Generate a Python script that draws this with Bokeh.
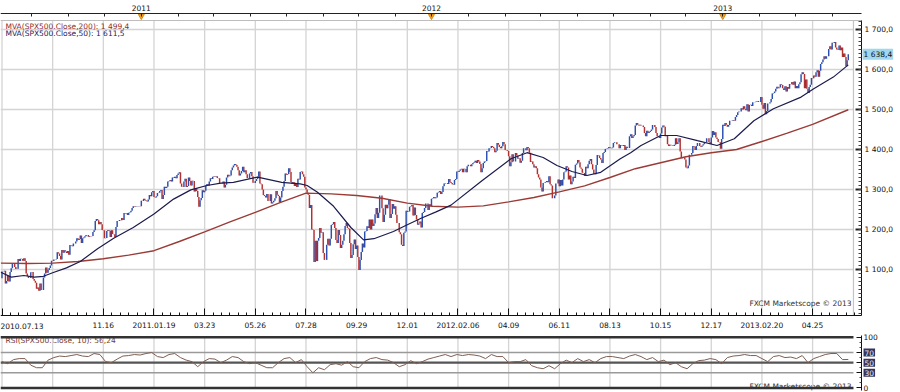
from bokeh.plotting import figure
from bokeh.models import ColumnDataSource, FixedTicker, Range1d, Label, LinearAxis
from bokeh.layouts import column
from bokeh.embed import file_html
from bokeh.resources import INLINE

# ---------------- data (daily closes, bar index -1 = 2010.07.12) ----------------
close_2010 = [1078, 1095, 1095, 1097, 1065, 1071, 1084, 1070, 1094, 1103, 1115, 1114, 1106, 1101, 1102,
              1126, 1121, 1127, 1126, 1122, 1128, 1121, 1090, 1084, 1079, 1079, 1093, 1094, 1076, 1072,
              1067, 1052, 1055, 1047, 1065, 1049, 1049,
              1080, 1090, 1105, 1092, 1099, 1104, 1110, 1122, 1121, 1125, 1125, 1126, 1143, 1140, 1134,
              1125, 1149, 1142, 1148, 1145, 1141,
              1146, 1137, 1161, 1160, 1158, 1165, 1165, 1170, 1178, 1174, 1176, 1185, 1166, 1178, 1180,
              1183, 1186, 1186, 1182, 1184, 1183,
              1184, 1194, 1198, 1221, 1226, 1223, 1213, 1219, 1213, 1199, 1198, 1178, 1179, 1196, 1199,
              1197, 1181, 1198, 1189, 1188, 1181,
              1206, 1221, 1221, 1224, 1223, 1229, 1224, 1241, 1240, 1241, 1236, 1242, 1243, 1247, 1254,
              1258, 1257, 1258, 1259, 1258, 1259, 1258]
close_2011 = [1272, 1271, 1277, 1274, 1272, 1270, 1275, 1286, 1283, 1293, 1296, 1281, 1280, 1283, 1291,
              1292, 1296, 1299, 1276, 1286,
              1307, 1304, 1307, 1320, 1321, 1324, 1320, 1330, 1329, 1332, 1328, 1336, 1340, 1343, 1315,
              1307, 1306, 1320, 1327,
              1306, 1309, 1330, 1321, 1310, 1322, 1321, 1295, 1304, 1296, 1281, 1257, 1273, 1279, 1298,
              1293, 1297, 1310, 1314, 1310, 1320, 1328, 1326,
              1332, 1333, 1332, 1333, 1329, 1328, 1314, 1314, 1315, 1320, 1305, 1312, 1330, 1337, 1333,
              1335, 1348, 1355, 1360, 1364,
              1361, 1357, 1348, 1335, 1340, 1346, 1357, 1343, 1348, 1338, 1329, 1328, 1340, 1344, 1333,
              1317, 1316, 1321, 1326, 1332, 1345,
              1315, 1313, 1300, 1286, 1284, 1280, 1289, 1271, 1271, 1288, 1265, 1268, 1272, 1278, 1296,
              1287, 1284, 1268, 1280, 1296, 1307, 1321,
              1340, 1337, 1339, 1353, 1344, 1319, 1314, 1318, 1309, 1316, 1306, 1327, 1325, 1344, 1345,
              1338, 1332, 1305, 1300, 1292,
              1287, 1254, 1261, 1200, 1199, 1119, 1172, 1121, 1172, 1179, 1204, 1192, 1193, 1141, 1124,
              1124, 1162, 1177, 1160, 1177, 1211, 1213, 1219,
              1204, 1174, 1166, 1199, 1186, 1154, 1162, 1172, 1188, 1209, 1216, 1204, 1202, 1166, 1129,
              1136, 1163, 1175, 1151, 1160, 1131,
              1099, 1124, 1144, 1165, 1155, 1195, 1196, 1208, 1204, 1225, 1200, 1225, 1209, 1215, 1238,
              1254, 1229, 1242, 1285, 1285, 1253,
              1219, 1237, 1262, 1253, 1262, 1276, 1229, 1239, 1264, 1252, 1258, 1237, 1216, 1216, 1193,
              1188, 1162, 1159, 1192, 1195, 1247,
              1244, 1245, 1257, 1258, 1261, 1235, 1255, 1236, 1225, 1212, 1215, 1220, 1205, 1241, 1244,
              1254, 1265, 1265, 1249, 1263, 1258]
close_2012 = [1277, 1278, 1281, 1278, 1280, 1292, 1293, 1296, 1289, 1294, 1308, 1315, 1316, 1316, 1314,
              1326, 1319, 1316, 1313, 1312,
              1324, 1326, 1345, 1344, 1347, 1350, 1352, 1343, 1352, 1351, 1343, 1358, 1362, 1362, 1358,
              1363, 1366, 1368, 1372, 1366,
              1374, 1370, 1364, 1343, 1353, 1366, 1370, 1371, 1396, 1395, 1403, 1404, 1409, 1406, 1403,
              1393, 1397, 1416, 1412, 1406, 1403, 1408,
              1419, 1413, 1399, 1398, 1396, 1383, 1358, 1368, 1388, 1370, 1370, 1391, 1385, 1377, 1378,
              1367, 1372, 1391, 1403, 1403, 1398,
              1406, 1403, 1392, 1369, 1370, 1363, 1355, 1358, 1353, 1338, 1330, 1325, 1305, 1295, 1316,
              1317, 1319, 1321, 1318, 1333, 1313, 1310,
              1278, 1278, 1285, 1315, 1315, 1325, 1308, 1324, 1310, 1325, 1343, 1345, 1358, 1355, 1325,
              1335, 1313, 1320, 1332, 1329, 1362,
              1365, 1374, 1368, 1355, 1352, 1342, 1341, 1334, 1357, 1353, 1363, 1372, 1376, 1363, 1350,
              1339, 1338, 1361, 1386, 1385, 1379,
              1375, 1366, 1391, 1394, 1401, 1402, 1403, 1406, 1404, 1403, 1405, 1416, 1418, 1418, 1413,
              1413, 1403, 1411, 1410, 1409, 1411, 1399, 1407,
              1404, 1404, 1433, 1438, 1429, 1433, 1436, 1460, 1466, 1462, 1460, 1462, 1460, 1460, 1456,
              1441, 1433, 1447, 1441,
              1444, 1446, 1450, 1461, 1461, 1456, 1441, 1433, 1433, 1429, 1440, 1455, 1460, 1457, 1433,
              1434, 1413, 1409, 1412, 1411, 1410, 1409, 1412,
              1428, 1414, 1418, 1428, 1395, 1378, 1380, 1380, 1375, 1355, 1353, 1360, 1387, 1387, 1391,
              1409, 1407, 1399, 1409, 1416, 1416,
              1409, 1407, 1410, 1413, 1418, 1418, 1428, 1428, 1419, 1414, 1430, 1446, 1436, 1443, 1430,
              1426, 1419, 1418, 1402, 1426]
close_2013 = [1462, 1459, 1466, 1462, 1457, 1461, 1472, 1472, 1471, 1473, 1472, 1481, 1486, 1493, 1495,
              1495, 1503, 1500, 1508, 1502, 1498,
              1513, 1495, 1511, 1512, 1509, 1518, 1518, 1519, 1520, 1521, 1519, 1519, 1531, 1512, 1502,
              1516, 1488, 1496, 1515, 1515,
              1518, 1526, 1540, 1541, 1545, 1552, 1557, 1553, 1555, 1563, 1561, 1553, 1549, 1558, 1545,
              1556, 1552, 1564, 1563, 1569,
              1562, 1570, 1553, 1559, 1553, 1563, 1568, 1588, 1593, 1589, 1553, 1575, 1552, 1541, 1556,
              1562, 1579, 1578, 1585, 1582, 1593, 1598,
              1582, 1597, 1614, 1618, 1625, 1633, 1627, 1633, 1633, 1651, 1658, 1650, 1667, 1666, 1669,
              1655, 1650, 1649, 1660, 1648, 1655, 1631,
              1640, 1631, 1608, 1623, 1638]

ma200_idx = [-1, 22, 44, 66, 88, 110, 132, 154, 176, 198, 220, 242, 264, 286, 308, 330, 352, 374,
             396, 418, 440, 462, 484, 506, 528, 550, 572, 594, 616, 638, 660, 682, 704, 735]
ma200_val = [1116, 1115, 1116, 1120, 1127, 1136, 1147, 1170, 1194, 1219, 1243, 1268, 1291, 1289,
             1285, 1278, 1266, 1258, 1256, 1259, 1269, 1280, 1294, 1309, 1330, 1352, 1367, 1382,
             1392, 1400, 1420, 1441, 1463, 1499.4]

ma50_idx = [-1, 8, 19, 28, 36, 44, 56, 68, 83, 97, 114, 132, 149, 164, 178, 190, 201, 222, 243,
            259, 265, 274, 288, 303, 314, 323, 340, 352, 364, 377, 390, 416, 442, 456, 470, 482,
            495, 508, 520, 537, 546, 555, 572, 586, 604, 621, 636, 653, 670, 694, 705, 722, 735]
ma50_val = [1093, 1081, 1085, 1081, 1083, 1092, 1104, 1120, 1152, 1178, 1205, 1239, 1276, 1299,
            1310, 1316, 1318, 1331, 1318, 1314, 1310, 1293, 1258, 1205, 1174, 1177, 1195, 1212,
            1228, 1244, 1261, 1320, 1377, 1392, 1380, 1360, 1345, 1335, 1343, 1377, 1392, 1410,
            1435, 1435, 1422, 1410, 1427, 1472, 1502, 1531, 1552, 1581, 1611.5]

rsi_val = [52, 48, 56, 58, 58, 45, 40, 40, 55, 60, 63, 62, 64, 66, 63, 62, 68, 66, 52, 50,
           57, 63, 64, 66, 65, 68, 70, 62, 60, 66, 68, 60, 55, 52, 42, 52, 58, 57, 50, 55,
           62, 60, 52, 48, 50, 45, 40, 40, 50, 58, 60, 50, 56, 42, 30, 40, 36, 46, 48, 45,
           52, 42, 40, 52, 58, 60, 56, 55, 50, 42, 46, 54, 48, 52, 57, 60, 63, 66, 62, 66,
           64, 66, 65, 63, 58, 66, 62, 62, 50, 52, 52, 56, 44, 40, 38, 44, 38, 48, 55, 50,
           58, 52, 56, 50, 58, 62, 62, 60, 58, 63, 66, 62, 56, 60, 52, 55, 46, 50, 42, 38,
           48, 54, 55, 58, 56, 48, 60, 63, 64, 66, 64, 64, 58, 52, 62, 64, 60, 61, 58, 64,
           50, 58, 62, 66, 68, 68, 56, 56.24]
rsi_idx = list(range(0, 5 * len(rsi_val), 5))

date_tick_idx = [0, 44, 88, 132, 176, 220, 264, 308, 352, 396, 440, 484, 528, 572, 616, 660, 704]
date_tick_labels = ["2010.07.13", "", "11.16", "2011.01.19", "03.23", "05.26", "07.28", "09.29",
                    "12.01", "2012.02.06", "04.09", "06.11", "08.13", "10.15", "12.17",
                    "2013.02.20", "04.25"]
year_labels = ["2011", "2012", "2013"]
price_ticks = [1100, 1200, 1300, 1400, 1500, 1600, 1700]
rsi_levels = [100, 70, 50, 30, 0]
rsi_boxed = [70, 50, 30]
last_price = 1638.4

# ---------------- derived ----------------
closes = close_2010 + close_2011 + close_2012 + close_2013
bar_idx = list(range(-1, len(closes) - 1))
n10, n11, n12 = len(close_2010), len(close_2011), len(close_2012)
year_idx = [n10 - 1, n10 + n11 - 1, n10 + n11 + n12 - 1]


def fmt(v, nd=1):
    s = f"{v:,.{nd}f}"
    return s.replace(",", " ").replace(".", ",")


FONT = "DejaVu Sans"
FS = "7.5px"
UP, DOWN = "#2c4fae", "#b3302f"
GRID = "#d4d4d4"
W = 900
X0, X1 = -1.303, 780.35        # whole canvas width (1.1514 px per bar)
XAX = 746.5                     # position of the right-hand axis
EDGE = bar_idx[-1] + 4.5        # right border of the chart area
YB, YT = 985.0, 1722.5          # bottom / top of the price area
x_range = Range1d(X0, X1)

# ---------------- main price panel ----------------
main = figure(width=W, height=333, x_range=x_range, y_range=Range1d(940.0, 1772.5),
              output_backend="svg", toolbar_location=None,
              x_axis_location="below", y_axis_location="right",
              min_border_left=0, min_border_right=0, min_border_top=0, min_border_bottom=0)
main.outline_line_color = None
main.background_fill_color = "white"
main.border_fill_color = "white"
main.xgrid.visible = False
main.ygrid.visible = False

# grid lines and frame lines
main.segment(x0=date_tick_idx, x1=date_tick_idx, y0=[YB] * len(date_tick_idx),
             y1=[YT] * len(date_tick_idx), line_color=GRID, line_width=1.3)
main.segment(x0=[X0] * len(price_ticks), x1=[EDGE] * len(price_ticks), y0=price_ticks,
             y1=price_ticks, line_color=GRID, line_width=1.3)
main.segment(x0=[X0], x1=[XAX], y0=[YT], y1=[YT], line_color="#bdbdbd", line_width=1.2)
main.segment(x0=[EDGE], x1=[EDGE], y0=[YB], y1=[YT], line_color="#c4c4c4", line_width=1.2)

# bottom date axis
xax = main.xaxis[0]
xax.fixed_location = YB
xax.bounds = (X0, XAX)
minor_x = [t + 44 * j / 6.0 for t in date_tick_idx for j in range(1, 6)]
xax.ticker = FixedTicker(ticks=date_tick_idx, minor_ticks=minor_x)
xax.major_label_overrides = {t: (lab if i > 0 else "") for i, (t, lab) in
                             enumerate(zip(date_tick_idx, date_tick_labels))}
xax.major_tick_in = 7
xax.major_tick_out = 0
xax.minor_tick_in = 3
xax.minor_tick_out = 0
xax.major_label_standoff = 6
xax.axis_line_color = "#111111"
xax.major_tick_line_color = "#111111"
xax.minor_tick_line_color = "#111111"
xax.major_label_text_font = FONT
xax.major_label_text_font_size = FS
xax.major_label_text_color = "#111111"

# right price axis
yax = main.yaxis[0]
yax.fixed_location = XAX
yax.bounds = (YB, YT)
yax.ticker = FixedTicker(ticks=price_ticks, minor_ticks=list(range(990, 1725, 10)))
yax.major_label_overrides = {v: fmt(v) for v in price_ticks}
yax.major_tick_in = 6
yax.major_tick_out = 0
yax.minor_tick_in = 3
yax.minor_tick_out = 0
yax.major_tick_line_width = 2
yax.major_label_standoff = 3
yax.axis_line_color = "#111111"
yax.major_tick_line_color = "#222222"
yax.minor_tick_line_color = "#444444"
yax.major_label_text_font = FONT
yax.major_label_text_font_size = FS
yax.major_label_text_color = "#111111"

# top year axis
step = (year_idx[2] - year_idx[0]) / 16.0
top_ticks = [int(round(year_idx[0] + step * k)) for k in range(-3, 20)
             if X0 < year_idx[0] + step * k < XAX]
top_ticks = sorted(set([t for t in top_ticks if min(abs(t - y) for y in year_idx) > 4] + year_idx))
tax = LinearAxis(fixed_location=1740.75, bounds=(X0, XAX),
                 ticker=FixedTicker(ticks=top_ticks),
                 major_label_overrides={t: (year_labels[year_idx.index(t)] if t in year_idx else "")
                                        for t in top_ticks},
                 major_tick_in=3, major_tick_out=0, minor_tick_in=0, minor_tick_out=0,
                 major_label_standoff=2, axis_line_color="#222222",
                 major_tick_line_color="#222222", major_label_text_font=FONT,
                 major_label_text_font_size=FS, major_label_text_color="#111111")
main.add_layout(tax, "above")
main.scatter(x=year_idx, y=[1733.5] * 3, marker="inverted_triangle", size=6,
             fill_color="#f0a12a", line_color="#d88a10")

# price bars and moving averages
prev = closes[:-1]
cur = closes[1:]
bars = ColumnDataSource(dict(x=bar_idx[1:], y0=prev, y1=cur,
                             c=[UP if b >= a else DOWN for a, b in zip(prev, cur)]))
main.segment(x0="x", y0="y0", x1="x", y1="y1", line_color="c", line_width=1.45, source=bars)
main.line(ma200_idx, ma200_val, line_color="#9a3b36", line_width=1.4)
main.line(ma50_idx, ma50_val, line_color="#1b1b4e", line_width=1.2)

lab_kw = dict(text_font=FONT, text_font_size=FS, text_baseline="middle")
main.add_layout(Label(x=3.0, y=1708.7, text=f"MVA(SPX500.Close,200): {fmt(ma200_val[-1])}",
                      text_color="#8e2e2a", **lab_kw))
main.add_layout(Label(x=3.0, y=1690.0, text=f"MVA(SPX500.Close,50): {fmt(ma50_val[-1])}",
                      text_color="#22225e", **lab_kw))
main.add_layout(Label(x=EDGE - 1.7, y=1015.0, text="FXCM Marketscope \u00a9 2013",
                      text_align="right", text_color="#333333", **lab_kw))
main.add_layout(Label(x=X0, y=960.0, text=date_tick_labels[0], text_align="left",
                      text_color="#111111", **lab_kw))
main.add_layout(Label(x=XAX, x_offset=1, y=last_price, text=fmt(last_price), text_align="left",
                      text_color="#111111", background_fill_color="#9fd8ee", padding=1, **lab_kw))

# ---------------- RSI panel ----------------
rsi = figure(width=W, height=59, x_range=x_range, y_range=Range1d(-8.9, 107.5),
             output_backend="svg", toolbar_location=None,
             x_axis_location=None, y_axis_location="right",
             min_border_left=0, min_border_right=0, min_border_top=0, min_border_bottom=0)
rsi.outline_line_color = None
rsi.background_fill_color = "white"
rsi.border_fill_color = "white"
rsi.xgrid.visible = False
rsi.ygrid.visible = False
rsi.segment(x0=date_tick_idx, x1=date_tick_idx, y0=[0] * len(date_tick_idx),
            y1=[100] * len(date_tick_idx), line_color=GRID, line_width=1.3)

rax = rsi.yaxis[0]
rax.fixed_location = XAX
rax.bounds = (-4, 104)
rax.ticker = FixedTicker(ticks=rsi_levels, minor_ticks=[10, 20, 40, 60, 80, 90])
rax.major_label_overrides = {v: ("" if v in rsi_boxed else str(v)) for v in rsi_levels}
rax.major_tick_in = 5
rax.major_tick_out = 0
rax.minor_tick_in = 2
rax.minor_tick_out = 0
rax.major_label_standoff = 2
rax.axis_line_color = "#111111"
rax.major_tick_line_color = "#111111"
rax.minor_tick_line_color = "#444444"
rax.major_label_text_font = FONT
rax.major_label_text_font_size = FS
rax.major_label_text_color = "#111111"

rsi.add_layout(Label(x=3.0, y=93.7, text=f"RSI(SPX500.Close, 10): {fmt(rsi_val[-1], 2)}",
                     text_color="#7b3a2c", level="underlay", **lab_kw))
rsi.add_layout(Label(x=EDGE - 1.7, y=3.0, text="FXCM Marketscope \u00a9 2013", text_align="right",
                     text_color="#333333", level="underlay", **lab_kw))
lvl_w = [2.4, 1.4, 2.2, 1.4, 2.4]
lvl_c = ["#333333", "#9a9a9a", "#555555", "#9a9a9a", "#333333"]
rsi.segment(x0=[X0] * 5, x1=[EDGE] * 5, y0=rsi_levels, y1=rsi_levels,
            line_color=lvl_c, line_width=lvl_w)
rsi.line(rsi_idx, rsi_val, line_color="#7d5f52", line_width=1)
for v in rsi_boxed:
    rsi.add_layout(Label(x=XAX, x_offset=2, y=v, text=str(v), text_align="left",
                         text_color="#e8e8f4", background_fill_color="#34345c", padding=1,
                         **lab_kw))

layout = column(main, rsi, spacing=0)
open("out.html", "w").write(file_html(layout, INLINE))
